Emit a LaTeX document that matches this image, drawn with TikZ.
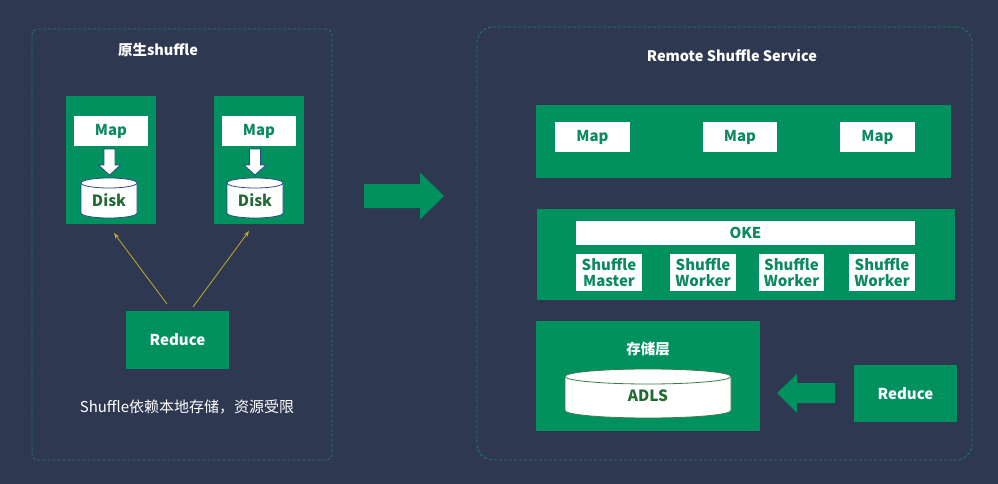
\documentclass[tikz,border=0pt]{standalone}
\usepackage{fontspec}
\setmainfont{Noto Sans CJK SC}
\usetikzlibrary{arrows.meta,calc}
\definecolor{bg}{HTML}{2E3850}
\definecolor{grn}{HTML}{00915F}
\definecolor{dashc}{HTML}{1F8060}
\definecolor{gold}{HTML}{C9A82C}
\definecolor{txtg}{HTML}{0B8A60}
\definecolor{diskg}{HTML}{226B35}
\definecolor{navy}{HTML}{2A4A8C}
\definecolor{adlsb}{HTML}{3E7A4A}
\newcommand\cylshape[6]{%
  \filldraw[fill=white,draw=#6,line width=0.8pt]
    ({#1-#4},#2) -- ({#1-#4},#3)
    arc[start angle=180,end angle=0,x radius=#4,y radius=#5]
    -- ({#1+#4},#2)
    arc[start angle=0,end angle=-180,x radius=#4,y radius=#5] -- cycle;
  \draw[draw=#6,line width=0.8pt] ({#1-#4},#2)
    arc[start angle=180,end angle=0,x radius=#4,y radius=#5];
}
\tikzset{
  panel/.style={draw=dashc,dashed,dash pattern=on 3pt off 2pt,line width=0.8pt,inner sep=0,outer sep=0},
  gbox/.style={fill=grn,inner sep=0,outer sep=0},
  wbox/.style={fill=white,inner sep=0,outer sep=0,text=txtg,font=\bfseries\fontsize{15}{17}\selectfont,align=center},
  ttl/.style={text=white,font=\bfseries\fontsize{14.5}{17}\selectfont,inner sep=0},
  goldarrow/.style={draw=gold,line width=0.8pt,-{Stealth[length=6pt,width=4.5pt]}},
}
\begin{document}
\begin{tikzpicture}[x=1pt,y=-1pt]
\fill[bg] (0,0) rectangle (998,484);
\useasboundingbox (0,0) rectangle (998,484);

% ---------- left panel ----------
\node[panel,rounded corners=6pt,minimum width=300pt,minimum height=431pt] (panelL) at (182,244.5) {};
\node[ttl] (titleL) at (158,50) {原生shuffle};

\node[gbox,minimum width=90pt,minimum height=128pt] (g1) at (111,160) {};
\node[gbox,minimum width=90pt,minimum height=128pt] (g2) at (259,160) {};
\node[wbox,minimum width=74pt,minimum height=30pt] (m1) at (111,131) {Map};
\node[wbox,minimum width=74pt,minimum height=30pt] (m2) at (259,131) {Map};

% down arrows
\filldraw[fill=white,draw=navy,line width=0.8pt]
  (104,149) -- (115,149) -- (115,165) -- (120.5,165) -- (109.5,175) -- (98.5,165) -- (104,165) -- cycle;
\filldraw[fill=white,draw=navy,line width=0.8pt]
  (249.5,149) -- (260.5,149) -- (260.5,165) -- (266,165) -- (255,175) -- (244,165) -- (249.5,165) -- cycle;

\cylshape{109}{183}{213}{28}{5}{navy}
\cylshape{255}{183}{213}{28}{5}{navy}
\node[text=diskg,font=\bfseries\fontsize{15.5}{17}\selectfont,inner sep=0] (d1) at (109,200) {Disk};
\node[text=diskg,font=\bfseries\fontsize{15.5}{17}\selectfont,inner sep=0] (d2) at (255,200) {Disk};

\node[gbox,minimum width=103pt,minimum height=58pt,text=white,font=\bfseries\fontsize{15}{17}\selectfont] (redL) at (177.5,340) {Reduce};

\coordinate (a1s) at (167,304);
\coordinate (a1e) at (114,233);
\coordinate (a2s) at (193,307);
\coordinate (a2e) at (249,231);
\draw[goldarrow] (a1s) -- (a1e);
\draw[goldarrow] (a2s) -- (a2e);

\node[text=white,font=\fontsize{15}{17}\selectfont,inner sep=0] (capL) at (187,407) {Shuffle依赖本地存储，资源受限};

% big right arrow
\fill[grn] (364,184) -- (420,184) -- (420,172.5) -- (444,196) -- (420,219.5) -- (420,208) -- (364,208) -- cycle;

% ---------- right panel ----------
\node[panel,rounded corners=16pt,minimum width=495pt,minimum height=433pt] (panelR) at (724.5,243.5) {};
\node[ttl] (titleR) at (732,56) {Remote Shuffle Service};

\node[gbox,minimum width=415pt,minimum height=73pt] (mapband) at (743.5,141.5) {};
\node[wbox,minimum width=75pt,minimum height=30pt] (rm1) at (592.5,137) {Map};
\node[wbox,minimum width=74pt,minimum height=30pt] (rm2) at (740,137) {Map};
\node[wbox,minimum width=75pt,minimum height=30pt] (rm3) at (877.5,137) {Map};

\node[gbox,minimum width=418pt,minimum height=91pt] (okeband) at (746,254.5) {};
\node[wbox,minimum width=339pt,minimum height=24pt] (oke) at (745.5,233) {OKE};
\node[wbox,minimum width=66pt,minimum height=37pt] (sm) at (609,272.5) {Shuffle\\[-1.5pt]Master};
\node[wbox,minimum width=66pt,minimum height=37pt] (sw1) at (703,272.5) {Shuffle\\[-1.5pt]Worker};
\node[wbox,minimum width=65pt,minimum height=37pt] (sw2) at (791.5,272.5) {Shuffle\\[-1.5pt]Worker};
\node[wbox,minimum width=66pt,minimum height=37pt] (sw3) at (882,272.5) {Shuffle\\[-1.5pt]Worker};

\node[gbox,minimum width=224pt,minimum height=110pt] (store) at (648,376) {};
\node[ttl] (storeT) at (648,349) {存储层};
\cylshape{648}{376.5}{410.5}{83}{7.5}{adlsb}
\node[text=diskg,font=\bfseries\fontsize{15.5}{17}\selectfont,inner sep=0] (adls) at (648,396) {ADLS};

\node[gbox,minimum width=103pt,minimum height=57pt,text=white,font=\bfseries\fontsize{15}{17}\selectfont] (redR) at (905.5,393.5) {Reduce};

% big left arrow
\fill[grn] (835,383) -- (797,383) -- (797,374) -- (777,393) -- (797,413) -- (797,403) -- (835,403) -- cycle;
\end{tikzpicture}
\end{document}
